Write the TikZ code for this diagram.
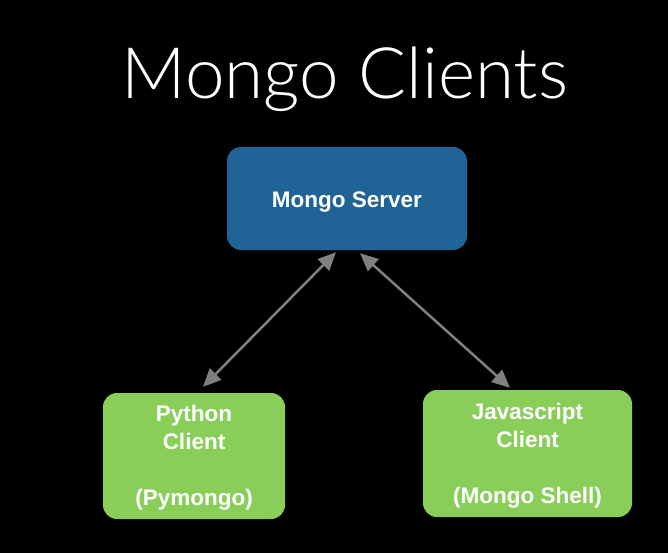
\documentclass[tikz,border=0pt]{standalone}
\usepackage{fontspec}
\setmainfont{Liberation Sans}
\newfontfamily\titlefont{Lato Light}
\usetikzlibrary{arrows.meta,calc}
\definecolor{srvblue}{RGB}{31,99,151}
\definecolor{cligreen}{RGB}{138,206,90}
\definecolor{arrgray}{RGB}{128,128,128}
\begin{document}
\begin{tikzpicture}[x=1pt,y=-1pt,
 boxtext/.style={align=center, text=white, font=\bfseries\fontsize{22.5}{28}\selectfont, inner sep=0pt},
 box/.style={rounded corners=14pt, inner sep=0pt},
 server/.style={box, fill=srvblue, minimum width=240pt, minimum height=103pt},
 client/.style={box, fill=cligreen},
 link/.style={draw=arrgray, line width=2.5pt, {Triangle[length=18pt,width=16pt]}-{Triangle[length=18pt,width=16pt]}}]
\fill[black] (0,0) rectangle (668,553);
\useasboundingbox (0,0) rectangle (668,553);
\node[font=\titlefont\fontsize{71}{80}\selectfont, text=white, anchor=base] (title) at (345,99) {Mongo Clients};
\node[server] (server) at (347,198.5) {};
\node[boxtext] (servert) at ([yshift=-4pt]server.center) {Mongo Server};
\node[client, minimum width=182pt, minimum height=126pt] (py) at (194,456) {};
\node[boxtext] (pyt) at ([yshift=-2pt]py.center) {Python\\Client\\\strut\\(Pymongo)};
\node[client, minimum width=209pt, minimum height=127pt] (js) at (527.5,453.5) {};
\node[boxtext] (jst) at ([yshift=-2pt]js.center) {Javascript\\Client\\\strut\\(Mongo Shell)};
\coordinate (a1) at ($(server.south)+(-11,2)$);
\coordinate (a2) at ($(py.north)+(9,-6)$);
\coordinate (b1) at ($(server.south)+(13,3)$);
\coordinate (b2) at ($(js.north)+(-17.5,-2)$);
\draw[link] (a1) -- (a2);
\draw[link] (b1) -- (b2);
\end{tikzpicture}
\end{document}
